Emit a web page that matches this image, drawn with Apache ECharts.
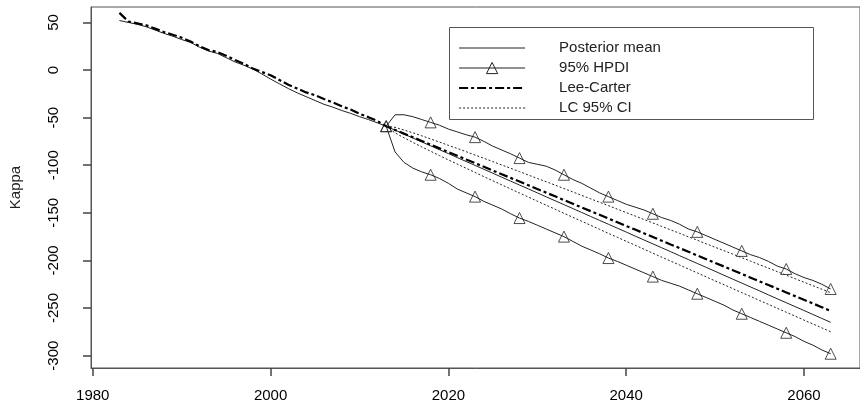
<!DOCTYPE html>
<html>
<head>
<meta charset="utf-8">
<script src="https://cdn.jsdelivr.net/npm/echarts@6/dist/echarts.min.js"></script>
<style>
  html, body { margin: 0; padding: 0; background: #fff; }
  #chart { width: 860px; height: 408px; }
</style>
</head>
<body>
<div id="chart"></div>
<script>
// years
var firstYear = 1983;
var forecastStart = 2013;
var xTicks = [1980, 2000, 2020, 2040, 2060];
var yTicks = [-300, -250, -200, -150, -100, -50, 0, 50];

// posterior mean, 1983-2063
var pmValues = [
  52, 50, 48, 45.5, 42, 38.5, 35.5, 32, 29, 24,
  20, 17.5, 13, 8.5, 5, 1, -4, -9.5, -14.5, -19.5,
  -24, -28, -32, -36, -39, -42.5, -45.5, -49, -52, -55.5,
  -59, -63.1, -67.2, -71.4, -75.5, -79.6, -83.7, -87.8, -92.0, -96.1,
  -100.2, -104.3, -108.4, -112.6, -116.7, -120.8, -124.9, -129.0, -133.2, -137.3,
  -141.4, -145.5, -149.6, -153.8, -157.9, -162.0, -166.1, -170.2, -174.4, -178.5,
  -182.6, -186.7, -190.8, -195.0, -199.1, -203.2, -207.3, -211.4, -215.6, -219.7,
  -223.8, -227.9, -232.0, -236.2, -240.3, -244.4, -248.5, -252.6, -256.8, -260.9,
  -265.0
];

// Lee-Carter, 1983-2063
var lcValues = [
  60, 51, 49, 47, 43.5, 40, 37, 34, 30, 25,
  21, 19, 15, 10.5, 6.5, 1.5, -2, -5.5, -10.5, -15.5,
  -19.5, -23.5, -26.5, -30.5, -34, -38, -41.5, -46, -49.5, -53.5,
  -59, -62.9, -66.8, -70.6, -74.5, -78.4, -82.3, -86.2, -90.0, -93.9,
  -97.8, -101.7, -105.6, -109.4, -113.3, -117.2, -121.1, -125.0, -128.8, -132.7,
  -136.6, -140.5, -144.4, -148.2, -152.1, -156.0, -159.9, -163.8, -167.6, -171.5,
  -175.4, -179.3, -183.2, -187.0, -190.9, -194.8, -198.7, -202.6, -206.4, -210.3,
  -214.2, -218.1, -222.0, -225.8, -229.7, -233.6, -237.5, -241.4, -245.2, -249.1,
  -253.0
];

// 95% HPDI, 2013-2063
var hpdiUpper = [
  -59, -47, -47, -49, -52, -55, -58, -62, -65, -68,
  -70.5, -75, -80, -84, -88, -92.5, -97, -99, -101, -105,
  -110, -115, -119, -124, -129, -133, -137, -141, -144, -147,
  -151, -155, -158, -162, -167, -170, -174, -178, -182, -186,
  -190, -194, -197, -201, -206, -209, -214, -218, -221, -225,
  -230
];
var hpdiLower = [
  -59, -86, -97, -103, -107, -110, -114, -119, -125, -129,
  -133, -138, -142, -146, -151, -155.5, -159, -163, -167, -171,
  -175, -180, -185, -189, -193, -197.5, -201, -205, -209, -213,
  -217, -221, -224, -227, -231, -235, -239, -243, -247, -252,
  -256, -260, -264, -268, -272, -276, -280, -285, -289, -294,
  -298
];

// LC 95% CI, 2013-2063
var lcUpper = [
  -59, -60.2, -63.0, -65.9, -69.1, -72.4, -75.7, -79.1, -82.4, -85.8,
  -89.3, -92.7, -96.2, -99.7, -103.2, -106.7, -110.3, -113.9, -117.3, -120.9,
  -124.5, -128.1, -131.7, -135.3, -138.9, -142.5, -146.1, -149.8, -153.3, -157.0,
  -160.6, -164.3, -167.9, -171.5, -175.2, -178.8, -182.5, -186.2, -189.8, -193.4,
  -197.1, -200.8, -204.5, -208.1, -211.8, -215.5, -219.2, -222.9, -226.5, -230.2,
  -233.9
];
var lcLower = [
  -59, -66.0, -71.2, -76.0, -80.7, -85.3, -89.9, -94.4, -98.8, -103.2,
  -107.6, -112.0, -116.3, -120.6, -124.9, -129.2, -133.5, -137.8, -142.0, -146.2,
  -150.5, -154.7, -158.9, -163.1, -167.3, -171.5, -175.7, -179.9, -184.0, -188.2,
  -192.4, -196.6, -200.7, -204.8, -209.0, -213.1, -217.3, -221.5, -225.5, -229.7,
  -233.8, -237.9, -242.1, -246.1, -250.3, -254.4, -258.5, -262.7, -266.7, -270.8,
  -274.9
];

function pairs(start, vals) {
  return vals.map(function (v, i) { return [start + i, v]; });
}
// triangle every 5 years of the HPDI
function marks(start, vals) {
  return pairs(start, vals).filter(function (p, i) { return i % 5 === 0; });
}

var font = "'Liberation Sans', Arial, sans-serif";
var ink = '#222';
var frame = '#555';
var lcDash = [9, 3, 3, 3];

var myChart = echarts.init(document.getElementById('chart'));
myChart.setOption({
  animation: false,
  backgroundColor: '#fff',
  textStyle: { fontFamily: font },
  grid: {
    left: 83, top: 7, width: 787, height: 361,
    show: true, borderColor: frame, borderWidth: 1, backgroundColor: 'transparent'
  },
  xAxis: {
    type: 'value', min: 1979.8, max: 2066.3,
    axisLine: { show: true, onZero: false, lineStyle: { color: frame } },
    splitLine: { show: false },
    axisTick: { show: true, inside: false, interval: 0, length: 8, customValues: xTicks, lineStyle: { color: '#444', width: 1.5 } },
    axisLabel: {
      customValues: xTicks, margin: 20, fontSize: 15, color: '#000', fontFamily: font,
      formatter: function (v) { return String(v); }
    }
  },
  yAxis: {
    type: 'value', min: -313, max: 66.2,
    name: 'Kappa', nameLocation: 'middle', nameGap: 68,
    nameTextStyle: { fontSize: 15, color: '#222', fontFamily: font },
    axisLine: { show: true, onZero: false, lineStyle: { color: frame } },
    splitLine: { show: false },
    axisTick: { show: true, inside: false, interval: 0, length: 8, customValues: yTicks, lineStyle: { color: '#444', width: 1.5 } },
    axisLabel: {
      customValues: yTicks, rotate: 90, margin: 30, fontSize: 15, color: '#000', fontFamily: font,
      formatter: function (v) { return String(v); }
    }
  },
  graphic: [{
    type: 'rect', z: 0,
    shape: { x: 449.5, y: 27.5, width: 364, height: 92 },
    style: { fill: 'transparent', stroke: frame, lineWidth: 1 }
  }],
  legend: {
    orient: 'vertical', left: 458, top: 38, padding: 0,
    itemWidth: 66, itemHeight: 14, itemGap: 0,
    textStyle: { fontSize: 15, color: '#222', lineHeight: 20, padding: [0, 0, 0, 29], fontFamily: font },
    data: [
      { name: 'Posterior mean', itemStyle: { opacity: 0 }, lineStyle: { width: 1, type: 'solid', color: ink } },
      { name: '95% HPDI', itemStyle: { color: 'rgba(0,0,0,0)', borderColor: ink, borderWidth: 1 }, lineStyle: { width: 1, type: 'solid', color: ink } },
      { name: 'Lee-Carter', itemStyle: { opacity: 0 }, lineStyle: { width: 2.2, type: lcDash, color: '#000' } },
      { name: 'LC 95% CI', itemStyle: { opacity: 0 }, lineStyle: { width: 1, type: [2, 2], color: ink } }
    ]
  },
  series: [
    {
      name: 'Posterior mean', type: 'line', data: pairs(firstYear, pmValues),
      showSymbol: false, symbol: 'none',
      lineStyle: { color: ink, width: 1 }, itemStyle: { color: ink }
    },
    {
      name: '95% HPDI', type: 'line', data: pairs(forecastStart, hpdiUpper),
      symbol: 'triangle', showSymbol: false,
      lineStyle: { color: ink, width: 1 }, itemStyle: { color: ink }
    },
    {
      name: '95% HPDI', type: 'line', data: pairs(forecastStart, hpdiLower),
      symbol: 'triangle', showSymbol: false,
      lineStyle: { color: ink, width: 1 }, itemStyle: { color: ink }
    },
    {
      name: 'HPDI marks', type: 'scatter',
      data: marks(forecastStart, hpdiUpper).concat(marks(forecastStart, hpdiLower)),
      symbol: 'triangle', symbolSize: 11,
      itemStyle: { color: 'rgba(0,0,0,0)', borderColor: ink, borderWidth: 1 }
    },
    {
      name: 'Lee-Carter', type: 'line', data: pairs(firstYear, lcValues),
      showSymbol: false, symbol: 'none',
      lineStyle: { color: '#000', width: 2.2, type: lcDash }, itemStyle: { color: '#000' }
    },
    {
      name: 'LC 95% CI', type: 'line', data: pairs(forecastStart, lcUpper),
      showSymbol: false, symbol: 'none',
      lineStyle: { color: ink, width: 1, type: [2, 2] }, itemStyle: { color: ink }
    },
    {
      name: 'LC 95% CI', type: 'line', data: pairs(forecastStart, lcLower),
      showSymbol: false, symbol: 'none',
      lineStyle: { color: ink, width: 1, type: [2, 2] }, itemStyle: { color: ink }
    }
  ]
});
</script>
</body>
</html>
